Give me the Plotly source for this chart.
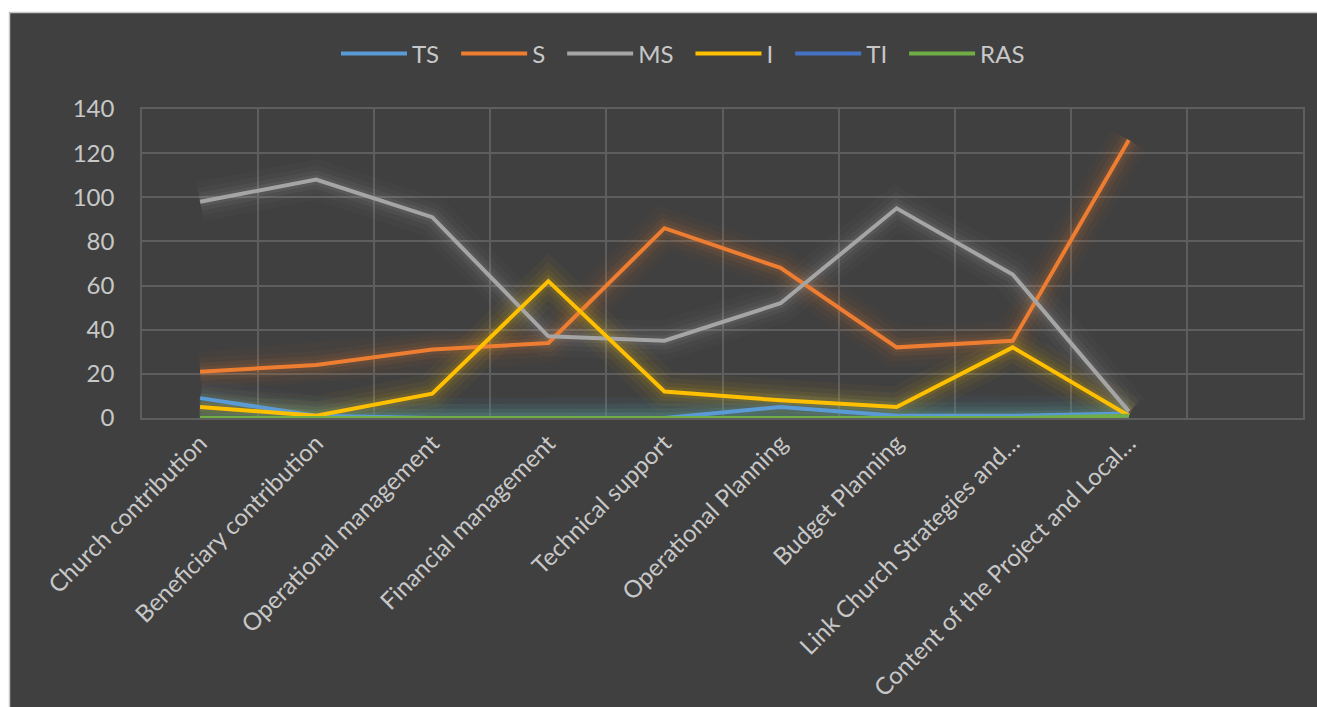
import plotly.graph_objects as go

categories = [
    "Church contribution",
    "Beneficiary contribution",
    "Operational management",
    "Financial management",
    "Technical support",
    "Operational Planning",
    "Budget Planning",
    "Link Church Strategies and…",
    "Content of the Project and Local…",
]
empty_slot = " "

TS = [9, 1, 0, 0, 0, 5, 1, 1, 2]
S = [21, 24, 31, 34, 86, 68, 32, 35, 126]
MS = [98, 108, 91, 37, 35, 52, 95, 65, 3]
I = [5, 1, 11, 62, 12, 8, 5, 32, 1]
TI = [0, 0, 0, 0, 0, 0, 0, 0, 0]
RAS = [0, 0, 0, 0, 0, 0, 0, 0, 1]

series = [
    ("TS", TS, "#5B9BD5"),
    ("S", S, "#ED7D31"),
    ("MS", MS, "#A5A5A5"),
    ("I", I, "#FFC000"),
    ("TI", TI, "#4472C4"),
    ("RAS", RAS, "#70AD47"),
]

def rgba(hex_color, a):
    h = hex_color.lstrip("#")
    r, g, b = int(h[0:2], 16), int(h[2:4], 16), int(h[4:6], 16)
    return f"rgba({r},{g},{b},{a})"

fig = go.Figure()

# soft glow underneath the lines
for name, vals, color in series:
    for w, a in [(40, 0.035), (28, 0.05), (18, 0.07), (10, 0.10)]:
        fig.add_trace(go.Scatter(
            x=categories, y=vals, mode="lines",
            line=dict(color=rgba(color, a), width=w),
            showlegend=False, hoverinfo="skip",
        ))

for name, vals, color in series:
    fig.add_trace(go.Scatter(
        x=categories, y=vals, mode="lines", name=name + "\u2002",
        line=dict(color=color, width=4),
    ))

W, H = 1317, 707
L, R, T, B = 142, 14, 109, 289
pw, ph = W - L - R, H - T - B

def px_x(X):
    return (X - L) / pw

def px_y(Y):
    return (H - B - Y) / ph

GRID = "#5E5E5E"
TXT = "#C8C8C8"

fig.update_layout(
    width=W, height=H,
    margin=dict(l=L, r=R, t=T, b=B, autoexpand=False),
    paper_bgcolor="#404040",
    plot_bgcolor="#404040",
    font=dict(family="Lato, Open Sans, sans-serif", color=TXT),
    showlegend=True,
    legend=dict(
        orientation="h",
        x=px_x(336), xanchor="left",
        y=px_y(54), yanchor="middle",
        font=dict(size=24, color=TXT),
        bgcolor="rgba(0,0,0,0)",
        traceorder="normal",
        itemwidth=66,
    ),
    xaxis=dict(
        type="category",
        categoryorder="array",
        categoryarray=categories + [empty_slot],
        range=[-0.5, len(categories) + 0.5],
        tickson="boundaries",
        ticks="",
        showgrid=True,
        gridcolor=GRID,
        gridwidth=1.5,
        tickangle=-45,
        tickfont=dict(size=24, color=TXT),
        showline=True, mirror=True, linecolor=GRID, linewidth=1.5,
        zeroline=False,
        fixedrange=True,
    ),
    yaxis=dict(
        range=[0, 140],
        tickmode="array",
        tickvals=[0, 20, 40, 60, 80, 100, 120, 140],
        showgrid=True,
        gridcolor=GRID,
        gridwidth=1.5,
        zeroline=False,
        showline=True, mirror=True, linecolor=GRID, linewidth=1.5,
        ticks="",
        ticklabelstandoff=21,
        tickfont=dict(size=24, color=TXT),
        fixedrange=True,
    ),
    shapes=[
        dict(type="rect", xref="paper", yref="paper",
             x0=px_x(-5), x1=px_x(W + 5), y0=px_y(-5), y1=px_y(12),
             fillcolor="white", line=dict(width=0), layer="below"),
        dict(type="rect", xref="paper", yref="paper",
             x0=px_x(-5), x1=px_x(9), y0=px_y(H + 5), y1=px_y(-5),
             fillcolor="white", line=dict(width=0), layer="below"),
        dict(type="line", xref="paper", yref="paper",
             x0=px_x(9.5), x1=px_x(W + 5), y0=px_y(12.5), y1=px_y(12.5),
             line=dict(color="#C8C8C8", width=1.5), layer="below"),
        dict(type="line", xref="paper", yref="paper",
             x0=px_x(9.5), x1=px_x(9.5), y0=px_y(12.5), y1=px_y(H + 5),
             line=dict(color="#C8C8C8", width=1.5), layer="below"),
    ],
)

fig.write_html("out.html")
